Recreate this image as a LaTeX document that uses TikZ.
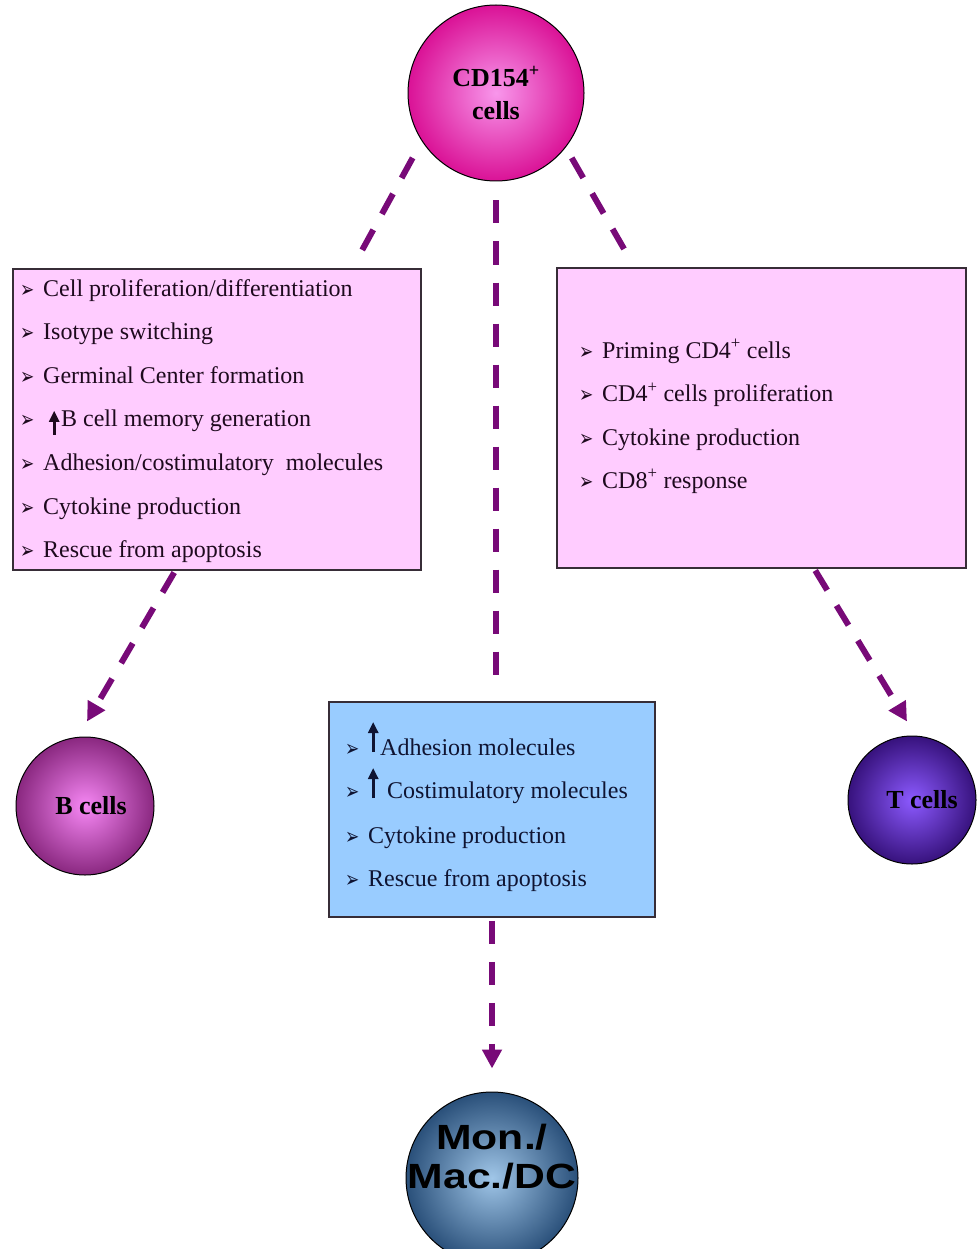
\documentclass[tikz,border=0pt]{standalone}
\usepackage{fontspec}
\usepackage{graphicx}
\setmainfont{Liberation Serif}
\newfontfamily\dejavu{DejaVu Sans}
\newfontfamily\lsans{Liberation Sans}
\usetikzlibrary{arrows.meta,calc}
\definecolor{dashc}{RGB}{120,10,120}
\definecolor{pinkbox}{RGB}{255,204,255}
\definecolor{bluebox}{RGB}{153,204,255}
\definecolor{boxedge}{RGB}{55,45,55}
\definecolor{txtp}{RGB}{30,10,30}
\definecolor{txtb}{RGB}{15,20,50}
\definecolor{cdin}{RGB}{248,150,235}
\definecolor{cdout}{RGB}{218,18,150}
\definecolor{bin}{RGB}{246,135,244}
\definecolor{bout}{RGB}{138,40,128}
\definecolor{tin}{RGB}{140,90,255}
\definecolor{tout}{RGB}{55,18,125}
\definecolor{min}{RGB}{160,198,232}
\definecolor{mout}{RGB}{42,80,122}
\newcommand\bul{\makebox[23pt][l]{\raisebox{-1pt}{\scalebox{0.85}[1.15]{\dejavu\fontsize{20}{20}\selectfont ➢}}}}
\newcommand\upar[3]{\tikz[baseline=0pt]\draw[line width=#3,-{Triangle[width=10pt,length=11pt]}] (0pt,#1)--(0pt,#2);}
\begin{document}
\begin{tikzpicture}[x=1pt,y=-1pt,
  conn/.style={draw=dashc,line width=6pt,dash pattern=on 23pt off 18pt},
  arr/.style={conn,-{Triangle[width=19pt,length=19pt]}},
  box/.style={draw=boxedge,line width=1.6pt,inner sep=0pt,rectangle},
  item/.style={anchor=base west,inner sep=0pt,text=txtp,font=\fontsize{24}{24}\selectfont},
  itemb/.style={item,text=txtb},
  cell/.style={circle,draw=black,line width=1pt,inner sep=0pt,align=center,text=black}
]
\clip (0,0) rectangle (978,1249);
\fill[white] (0,0) rectangle (978,1249);

% boxes
\node[box,fill=pinkbox,minimum width=408pt,minimum height=301pt] (lbox) at (217,419.5) {};
\node[box,fill=pinkbox,minimum width=409pt,minimum height=300pt] (rbox) at (761.5,418) {};
\node[box,fill=bluebox,minimum width=326pt,minimum height=215pt] (mbox) at (492,809.5) {};

% left box items
\node[item] (l1) at (20,296) {\bul Cell proliferation/differentiation};
\node[item] (l2) at (20,339.6) {\bul Isotype switching};
\node[item] (l3) at (20,383.2) {\bul Germinal Center formation};
\node[item] (l4) at (20,426.8) {\bul\hspace{6pt}\upar{-8pt}{16pt}{3pt}\hspace{2pt}B cell memory generation};
\node[item] (l5) at (20,470.4) {\bul Adhesion/costimulatory\hspace{12pt}molecules};
\node[item] (l6) at (20,514) {\bul Cytokine production};
\node[item] (l7) at (20,557.6) {\bul Rescue from apoptosis};

% right box items
\node[item] (r1) at (579,358) {\bul Priming CD4\textsuperscript{+} cells};
\node[item] (r2) at (579,401.7) {\bul CD4\textsuperscript{+} cells proliferation};
\node[item] (r3) at (579,445) {\bul Cytokine production};
\node[item] (r4) at (579,488) {\bul CD8\textsuperscript{+} response};

% middle box items
\node[itemb] (m1) at (345,755) {\bul\upar{3pt}{33pt}{3pt}\hspace{2pt}Adhesion molecules};
\node[itemb] (m2) at (345,798) {\bul\upar{0pt}{30pt}{3pt}\hspace{9pt}Costimulatory molecules};
\node[itemb] (m3) at (345,843) {\bul Cytokine production};
\node[itemb] (m4) at (345,886.7) {\bul Rescue from apoptosis};

% cells
\node[cell,minimum size=176pt,inner color=cdin,outer color=cdout,
  font=\fontsize{26}{33}\selectfont\bfseries] (cd) at (496,93)
  {CD154\textsuperscript{+}\\cells};
\node[cell,minimum size=138pt,inner color=bin,outer color=bout,
  font=\fontsize{26}{30}\selectfont\bfseries] (bc) at (85,806)
  {\hspace*{12pt}B cells};
\node[cell,minimum size=128pt,inner color=tin,outer color=tout,
  font=\fontsize{26}{30}\selectfont\bfseries] (tc) at (912,800)
  {\hspace*{20pt}T cells};
\node[cell,minimum size=172pt,inner color=min,outer color=mout] (mon) at (492,1178)
  {\raisebox{11pt}[0pt][0pt]{\lsans\bfseries\fontsize{35}{39}\selectfont\scalebox{1.22}[1]{\begin{tabular}{@{}c@{}}Mon./\\Mac./DC\end{tabular}}}};

% connectors
\draw[conn,shorten <=19pt] (cd.213) -- ($(lbox.north east)+(-63,-12)$);
\draw[conn,shorten <=12pt] (cd.-38) -- ($(rbox.north west)+(72,-11)$);
\draw[conn,shorten <=19pt,shorten >=12pt] (cd.south) -- (cd.south |- mbox.north);
\draw[arr,shorten <=2pt] ($(lbox.south west)+(163,0)$) -- ($(bc.north)+(2,-15)$);
\draw[arr,shorten <=2pt] ($(rbox.south west)+(258,0)$) -- ($(tc.north)+(-5,-14)$);
\draw[arr,shorten <=3pt] (mbox.south) -- ($(mon.north)+(0,-23)$);
\end{tikzpicture}
\end{document}
